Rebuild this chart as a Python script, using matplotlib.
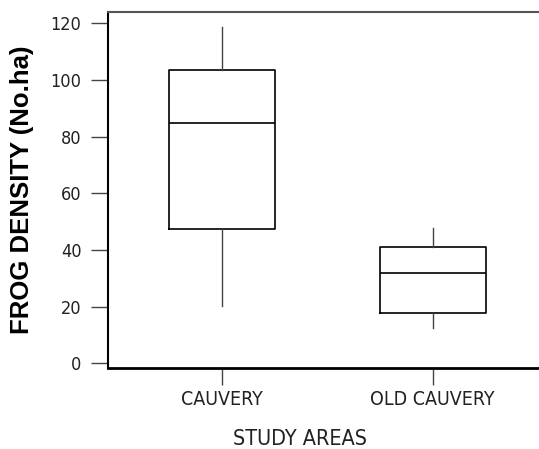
import matplotlib.pyplot as plt
import matplotlib.font_manager as fm

# values
areas = ['CAUVERY', 'OLD CAUVERY']
whislo = [20.4, 12.6]
q1 = [47.3, 17.9]
med = [84.9, 31.9]
q3 = [103.4, 41.1]
whishi = [118.6, 47.8]
yticks = [0, 20, 40, 60, 80, 100, 120]

# narrow face for the tick labels, if one is around
names = {f.name for f in fm.fontManager.ttflist}
if 'Liberation Sans Narrow' in names:
    narrow = fm.FontProperties(family='Liberation Sans Narrow')
else:
    narrow = fm.FontProperties(family='DejaVu Sans', stretch='condensed')

fig = plt.figure(figsize=(5.39, 4.49), dpi=100)
ax = fig.add_axes([108/539, 1-368/449, 1-108/539, (368-12)/449])

stats = [dict(label=areas[i], whislo=whislo[i], q1=q1[i], med=med[i],
              q3=q3[i], whishi=whishi[i], fliers=[]) for i in range(2)]
ax.bxp(stats, positions=[1, 2], widths=0.503, showcaps=False,
       boxprops=dict(color='black', linewidth=1.2),
       medianprops=dict(color='black', linewidth=1.2),
       whiskerprops=dict(color='#444444', linewidth=1.0))

ax.set_xlim(0.459, 2.505)
ax.set_ylim(-1.66, 124.0)
ax.set_yticks(yticks)
ax.set_xticks([1, 2])
ax.set_xticklabels(areas)

ax.spines['right'].set_visible(False)
ax.spines['top'].set_color('#555555')
ax.spines['top'].set_linewidth(1.5)
ax.spines['bottom'].set_linewidth(2)
ax.spines['left'].set_linewidth(1.5)
ax.tick_params(axis='y', length=12, width=1, color='#444444', pad=7)
ax.tick_params(axis='x', length=12, width=1, color='#444444', pad=4)
for lab in ax.get_yticklabels():
    lab.set_fontproperties(narrow)
    lab.set_fontsize(13)
    lab.set_color('#222222')
for lab in ax.get_xticklabels():
    lab.set_fontproperties(narrow)
    lab.set_fontsize(14)
    lab.set_color('#222222')

ax.set_ylabel('FROG DENSITY (No.ha)', fontsize=18.5, fontweight='bold',
              family='Liberation Sans')
ax.yaxis.set_label_coords(-74/431, 0.5)
xl = ax.set_xlabel('STUDY AREAS', color='#222222')
xl.set_fontproperties(narrow)
xl.set_fontsize(15.5)
ax.xaxis.set_label_coords((300-108)/431, -61/356)

fig.savefig('out.png', dpi=100)
